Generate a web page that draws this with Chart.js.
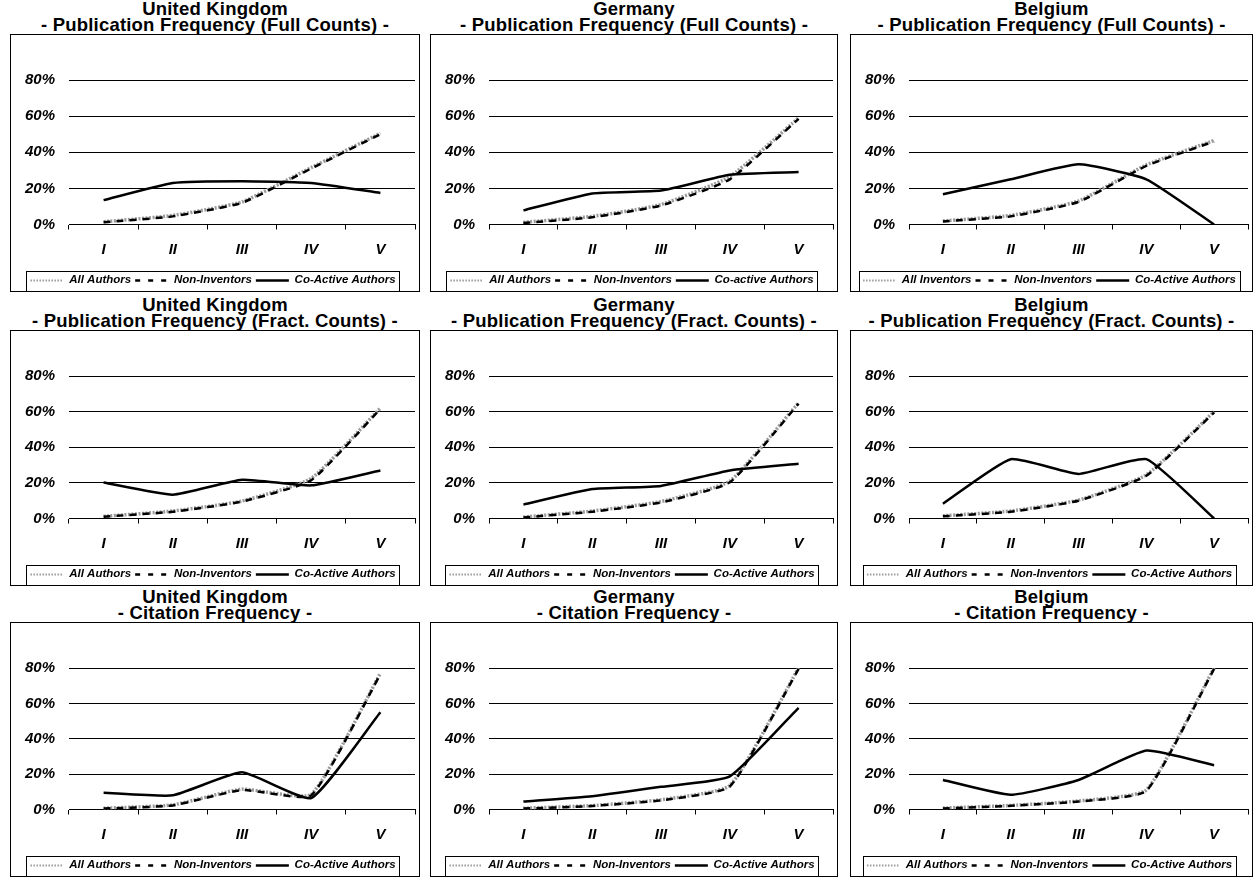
<!DOCTYPE html>
<html>
<head>
<meta charset="utf-8">
<script src="https://cdn.jsdelivr.net/npm/chart.js@4.4.1/dist/chart.umd.min.js"></script>
<style>
body{margin:0;background:#fff;width:1254px;height:877px;position:relative;overflow:hidden;font-family:"Liberation Sans",Arial,sans-serif;}
.titulo{position:absolute;text-align:center;font-weight:bold;font-size:18.5px;line-height:16px;letter-spacing:0.2px;color:#000;white-space:nowrap;}
.caixa{position:absolute;border:1px solid #000;box-sizing:border-box;background:#fff;}
canvas{display:block}
</style>
</head>
<body>
<script>
// categorias e rótulos
const categorias=["I","II","III","IV","V"];
const paises=["United Kingdom","Germany","Belgium"];
const subtitulos=[
"- Publication Frequency (Full Counts) -",
"- Publication Frequency (Fract. Counts) -",
"- Citation Frequency -"
];
const rotulosTodos=["All Authors","All Authors","All Inventors","All Authors","All Authors","All Authors","All Authors","All Authors","All Authors"];
const rotulosNao=["Non-Inventors","Non-Inventors","Non-Inventors","Non-Inventors","Non-Inventors","Non-Inventors","Non-Inventors","Non-Inventors","Non-Inventors"];
const rotulosCo=["Co-Active Authors","Co-active Authors","Co-Active Authors","Co-Active Authors","Co-Active Authors","Co-Active Authors","Co-Active Authors","Co-Active Authors","Co-Active Authors"];

// valores (%)
const ukFullAll=[1.5,5,12.5,31.5,50.5];
const ukFullNon=[1.2,4.5,12,31,50];
const ukFullCo=[13.5,23,24,23,17.5];
const deFullAll=[1.2,4.5,11,26.5,59];
const deFullNon=[0.8,4,10.5,25,58.5];
const deFullCo=[7.8,17.2,18.8,27.5,29];
const beFullAll=[2,5,13,33,46.5];
const beFullNon=[1.7,4.5,12.5,32.5,46];
const beFullCo=[16.7,25,33.3,25,0];

const ukFracAll=[1.2,4.2,9.8,22.5,62];
const ukFracNon=[1,3.8,9.5,21.5,61.5];
const ukFracCo=[20.2,13.4,21.8,18.6,27];
const deFracAll=[0.8,4.2,9.5,21,65];
const deFracNon=[0.6,3.8,9,20.3,64.5];
const deFracCo=[7.8,16.5,18.3,27,30.7];
const beFracAll=[1.5,4.2,10.3,24.5,60];
const beFracNon=[1.2,3.8,10,24,59.5];
const beFracCo=[8.3,33.3,25,33.3,0];

const ukCitAll=[0.7,2.6,11.5,8.5,77];
const ukCitNon=[0.5,2.3,11,8,76.5];
const ukCitCo=[9.5,8,21,6.5,55];
const deCitAll=[0.7,2.2,5.5,13.5,80];
const deCitNon=[0.5,2,5.2,13,79.5];
const deCitCo=[4.5,7.5,12.8,18.7,57.5];
const beCitAll=[0.8,2.3,4.8,11,80];
const beCitNon=[0.6,2.1,4.5,10.5,79.5];
const beCitCo=[16.7,8.3,16.7,33.3,25];

const ticksY=[0,20,40,60,80];

const series=[
[ukFullAll,ukFullNon,ukFullCo],[deFullAll,deFullNon,deFullCo],[beFullAll,beFullNon,beFullCo],
[ukFracAll,ukFracNon,ukFracCo],[deFracAll,deFracNon,deFracCo],[beFracAll,beFracNon,beFracCo],
[ukCitAll,ukCitNon,ukCitCo],[deCitAll,deCitNon,deCitCo],[beCitAll,beCitNon,beCitCo]
];

// posições dos painéis
const colX=[10,430,850];
const colW=[410,408,403];
const tituloY=[1,297,589];
const caixaY=[34,330,622];
const caixaH=[258,256,255];

const fonte='"Liberation Sans", Arial, sans-serif';
const larguraAmostra=33;

// moldura da legenda e amostras de linha com tracejado
const caixaLegenda={
id:"caixaLegenda",
afterDraw(chart){
const hb=chart.legend.legendHitBoxes;
if(!hb||!hb.length)return;
const ctx=chart.ctx;
ctx.save();
chart.legend.legendItems.forEach((it,k)=>{
const ds=chart.data.datasets[it.datasetIndex];
const h=hb[k];
const y=Math.round(h.top+h.height/2)+0.5;
ctx.strokeStyle=ds.borderColor;
ctx.lineWidth=ds.larguraLegenda;
ctx.setLineDash(ds.tracoLegenda||[]);
ctx.beginPath();
ctx.moveTo(h.left,y);
ctx.lineTo(h.left+larguraAmostra,y);
ctx.stroke();
});
const l=Math.min(...hb.map(h=>h.left))-4;
const r=Math.max(...hb.map(h=>h.left+h.width))+4;
const t=hb[0].top-4;
const b=hb[0].top+hb[0].height+4;
ctx.strokeStyle="#000";
ctx.lineWidth=1;
ctx.setLineDash([]);
ctx.strokeRect(Math.round(l)+.5,Math.round(t)+.5,Math.round(r-l),Math.round(b-t));
ctx.restore();
}
};

for(let lin=0;lin<3;lin++){
for(let col=0;col<3;col++){

let i=lin*3+col;

let titulo=document.createElement("div");
titulo.className="titulo";
titulo.style.left=colX[col]+"px";
titulo.style.width=colW[col]+"px";
titulo.style.top=tituloY[lin]+"px";
titulo.innerHTML=paises[col]+"<br>"+subtitulos[lin];
document.body.appendChild(titulo);

let caixa=document.createElement("div");
caixa.className="caixa";
caixa.style.left=colX[col]+"px";
caixa.style.top=caixaY[lin]+"px";
caixa.style.width=colW[col]+"px";
caixa.style.height=caixaH[lin]+"px";
let cv=document.createElement("canvas");
cv.width=colW[col]-2;
cv.height=caixaH[lin]-2;
caixa.appendChild(cv);
document.body.appendChild(caixa);

new Chart(cv,{
type:"line",
data:{
labels:categorias,
datasets:[
{label:rotulosTodos[i],data:series[i][0],borderColor:"#9a9a9a",borderWidth:3.5,borderDash:[2,1.5],order:3,larguraLegenda:2,tracoLegenda:[1.5,1.5]},
{label:rotulosNao[i],data:series[i][1],borderColor:"#000",borderWidth:2.5,borderDash:[7,6],order:2,larguraLegenda:2.5,tracoLegenda:[5,8]},
{label:rotulosCo[i],data:series[i][2],borderColor:"#000",borderWidth:2.5,order:1,larguraLegenda:2.5,tracoLegenda:[]}
]
},
options:{
responsive:false,
animation:false,
events:[],
elements:{point:{radius:0},line:{tension:0.15,borderCapStyle:"butt"}},
layout:{padding:{top:45,right:4,left:0,bottom:-5}},
plugins:{
tooltip:{enabled:false},
legend:{
position:"bottom",
labels:{
usePointStyle:true,
pointStyle:"line",
pointStyleWidth:larguraAmostra,
padding:4,
color:"#000",
font:{family:fonte,size:11.5,weight:"bold",style:"italic"},
sort:(a,b)=>a.datasetIndex-b.datasetIndex,
generateLabels:c=>Chart.defaults.plugins.legend.labels.generateLabels(c).map(it=>({...it,lineWidth:0,strokeStyle:"rgba(0,0,0,0)",fillStyle:"rgba(0,0,0,0)"}))
}
}
},
scales:{
x:{
offset:true,
grid:{display:true,drawOnChartArea:false,offset:true,color:"#000",tickLength:5},
border:{display:true,color:"#000",width:1},
ticks:{color:"#000",padding:11,font:{family:fonte,size:15,weight:"bold",style:"italic"}},
afterFit:s=>{s.height=46;}
},
y:{
min:0,max:80,
afterBuildTicks:s=>{s.ticks=ticksY.map(v=>({value:v}));},
ticks:{color:"#000",padding:14,callback:v=>v+"%",font:{family:fonte,size:15,weight:"bold",style:"italic"}},
grid:{color:"#000",drawTicks:false},
border:{display:false},
afterFit:s=>{s.width=58;}
}
}
},
plugins:[caixaLegenda]
});

}
}
</script>
</body>
</html>
